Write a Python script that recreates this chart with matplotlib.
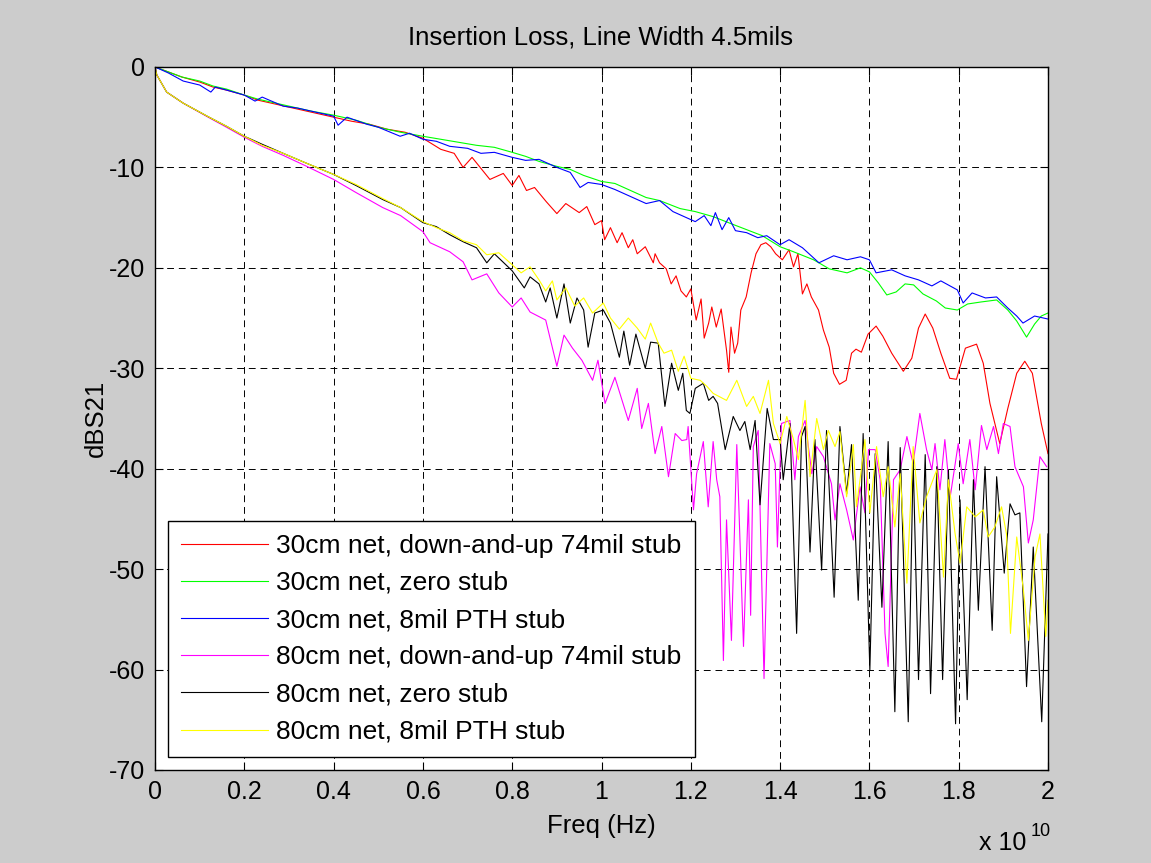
import matplotlib
matplotlib.use("Agg")
import matplotlib.pyplot as plt
import numpy as np

plt.rcParams['font.family'] = ['Liberation Sans', 'DejaVu Sans']
plt.rcParams['axes.unicode_minus'] = False

# (frequency in GHz, S21 in dB)
red_30cm_74mil = [(0, 0), (0.3, -0.5), (0.6, -1.0), (1.0, -1.5), (1.3, -2.0), (1.6, -2.3), (2.0, -2.8), (2.3, -3.3),
                  (2.6, -3.6), (3.0, -4.0), (3.5, -4.5), (4.0, -5.0), (4.4, -5.4), (4.8, -5.7), (5.2, -6.2), (5.6, -6.5),
                  (6.0, -7.1), (6.4, -8.2), (6.7, -8.6), (6.9, -10.0), (7.1, -9.0), (7.5, -11.2), (7.8, -10.6),
                  (8.0, -11.8), (8.15, -10.8), (8.32, -12.3), (8.5, -12.0), (8.76, -13.4), (9.0, -14.6), (9.2, -13.6),
                  (9.5, -14.5), (9.67, -13.9), (9.85, -15.7), (10.0, -15.3), (10.07, -17.2), (10.2, -16.0),
                  (10.35, -17.5), (10.46, -16.5), (10.6, -18.0), (10.7, -17.2), (10.8, -18.6), (10.98, -17.9),
                  (11.16, -19.5), (11.2, -18.6), (11.3, -19.5), (11.45, -20.1), (11.56, -21.6), (11.67, -20.8),
                  (11.78, -22.3), (11.9, -22.9), (12.0, -22.1), (12.12, -25.2), (12.23, -23.1), (12.3, -27.0),
                  (12.4, -25.5), (12.47, -23.9), (12.57, -25.9), (12.68, -24.1), (12.8, -28.2), (12.85, -30.4),
                  (12.9, -25.9), (12.98, -28.5), (13.05, -27.5), (13.12, -24.2), (13.24, -22.9), (13.35, -20.5),
                  (13.46, -18.6), (13.57, -17.7), (13.68, -17.5), (13.79, -17.9), (13.9, -18.6), (14.05, -19.2),
                  (14.2, -18.2), (14.3, -19.9), (14.4, -18.6), (14.5, -22.6), (14.6, -21.6), (14.7, -22.9),
                  (14.86, -24.2), (14.97, -26.2), (15.1, -27.9), (15.2, -30.5), (15.33, -31.6), (15.48, -31.2),
                  (15.6, -28.5), (15.7, -28.1), (15.82, -28.4), (15.97, -26.6), (16.15, -25.8), (16.3, -26.8),
                  (16.5, -28.5), (16.76, -30.3), (16.95, -29.0), (17.1, -26.0), (17.25, -24.6), (17.42, -26.0),
                  (17.6, -28.5), (17.8, -31.0), (17.95, -31.1), (18.15, -28.0), (18.4, -27.6), (18.55, -29.5),
                  (18.7, -33.5), (18.92, -37.5), (19.1, -34.0), (19.3, -30.5), (19.48, -29.3), (19.65, -30.5),
                  (19.85, -35.5), (20.0, -38.5)]

green_30cm_zero = [(0, 0), (0.3, -0.5), (0.6, -1.0), (1.0, -1.4), (1.3, -1.9), (1.6, -2.2), (2.0, -2.8), (2.3, -3.2),
                   (2.6, -3.5), (3.0, -3.9), (3.5, -4.4), (4.0, -4.8), (4.5, -5.3), (5.0, -6.0), (5.5, -6.5),
                   (6.0, -6.9), (6.4, -7.2), (6.8, -7.5), (7.2, -7.8), (7.6, -8.0), (8.0, -8.5), (8.3, -8.9),
                   (8.6, -9.4), (9.0, -9.9), (9.3, -10.2), (9.6, -10.8), (10.0, -11.4), (10.3, -11.6), (10.6, -12.2),
                   (11.0, -13.0), (11.3, -13.3), (11.76, -14.1), (12.1, -14.4), (12.5, -14.9), (12.9, -15.6),
                   (13.25, -16.2), (13.6, -16.8), (14.0, -17.9), (14.3, -18.4), (14.75, -19.2), (15.1, -20.1),
                   (15.5, -20.5), (15.8, -20.0), (16.0, -20.4), (16.2, -21.5), (16.39, -22.7), (16.6, -22.4),
                   (16.8, -21.6), (16.99, -21.7), (17.2, -22.6), (17.5, -23.3), (17.7, -24.0), (17.97, -24.2),
                   (18.2, -23.6), (18.5, -23.4), (18.85, -23.2), (19.1, -24.2), (19.3, -25.3), (19.52, -26.9),
                   (19.7, -25.6), (19.85, -24.8), (20.0, -24.5)]

blue_30cm_8mil = [(0, 0), (0.3, -0.6), (0.63, -1.4), (1.0, -1.8), (1.25, -2.5), (1.35, -2.0), (1.6, -2.3), (2.0, -2.8),
                  (2.24, -3.4), (2.4, -3.0), (2.87, -3.9), (3.2, -4.1), (3.6, -4.5), (4.0, -4.9), (4.1, -5.8),
                  (4.3, -5.0), (4.74, -5.7), (5.0, -6.0), (5.49, -6.9), (5.7, -6.6), (6.0, -7.2), (6.3, -7.4),
                  (6.6, -7.9), (7.0, -8.1), (7.3, -8.6), (7.6, -8.5), (8.0, -9.0), (8.3, -9.3), (8.6, -9.2),
                  (9.0, -10.0), (9.3, -10.5), (9.52, -12.0), (9.7, -11.5), (10.0, -11.7), (10.3, -12.2),
                  (10.6, -12.8), (11.0, -13.6), (11.3, -13.3), (11.6, -14.4), (11.9, -15.0), (12.1, -15.4),
                  (12.3, -14.8), (12.45, -15.8), (12.55, -14.5), (12.7, -16.2), (12.85, -15.0), (13.0, -16.3),
                  (13.25, -16.5), (13.5, -17.0), (13.7, -16.8), (14.0, -17.7), (14.2, -17.2), (14.5, -18.0),
                  (14.87, -19.5), (15.2, -18.8), (15.5, -19.2), (15.8, -18.9), (16.0, -19.2), (16.15, -20.5),
                  (16.5, -20.2), (16.8, -20.8), (17.1, -21.2), (17.4, -21.8), (17.6, -21.3), (17.97, -22.2),
                  (18.1, -23.5), (18.3, -22.5), (18.6, -23.0), (18.85, -22.9), (19.1, -24.0), (19.3, -24.8),
                  (19.44, -25.5), (19.7, -24.8), (20.0, -25.1)]

magenta_80cm_74mil = [(0, 0), (0.04, -0.8), (0.26, -2.5), (0.63, -3.6), (1.19, -5.0), (1.6, -6.0), (2.0, -7.0),
                      (2.4, -7.9), (2.87, -8.8), (3.4, -9.9), (4.0, -11.2), (4.5, -12.5), (5.1, -14.0), (5.5, -14.8),
                      (6.0, -16.4), (6.16, -17.5), (6.6, -18.4), (6.9, -19.4), (7.1, -21.2), (7.43, -20.6),
                      (7.7, -22.5), (8.0, -23.9), (8.2, -23.0), (8.4, -24.4), (8.75, -25.2), (9.0, -29.8),
                      (9.16, -26.7), (9.35, -28.0), (9.56, -29.2), (9.8, -31.2), (9.92, -29.2), (10.08, -33.5),
                      (10.3, -30.9), (10.6, -35.2), (10.8, -32.0), (10.9, -36.0), (11.05, -33.5), (11.2, -38.5),
                      (11.35, -35.8), (11.5, -40.8), (11.65, -36.5), (11.8, -37.2), (11.91, -37.1), (11.94, -35.8),
                      (12.06, -44.1), (12.13, -40.5), (12.28, -37.3), (12.39, -43.8), (12.5, -37.3), (12.58, -41.1),
                      (12.65, -42.8), (12.73, -59.1), (12.8, -45.1), (12.91, -57.1), (13.03, -37.6), (13.18, -57.7),
                      (13.29, -43.1), (13.34, -54.6), (13.4, -37.8), (13.51, -36.2), (13.64, -60.9), (13.77, -37.5),
                      (13.89, -39.5), (13.94, -47.8), (14.03, -35.5), (14.22, -35.2), (14.33, -41.1), (14.41, -36.8),
                      (14.56, -35.2), (14.71, -40.5), (14.82, -37.8), (14.97, -38.8), (15.15, -41.5), (15.23, -45.1),
                      (15.34, -41.5), (15.49, -44.1), (15.64, -47.1), (15.79, -41.8), (15.9, -44.4), (15.98, -38.1),
                      (16.13, -38.1), (16.24, -41.1), (16.35, -56.4), (16.42, -59.7), (16.54, -41.1), (16.69, -40.1),
                      (16.84, -36.8), (16.98, -39.5), (17.13, -34.5), (17.28, -38.1), (17.4, -40.1), (17.47, -37.5),
                      (17.58, -42.1), (17.69, -37.1), (17.81, -42.8), (17.99, -37.5), (18.1, -41.5), (18.25, -37.1),
                      (18.37, -42.1), (18.51, -35.7), (18.63, -38.1), (18.78, -35.8), (18.89, -38.5), (19.0, -35.5),
                      (19.15, -35.8), (19.26, -39.8), (19.45, -41.8), (19.56, -47.4), (19.67, -45.1), (19.82, -38.8),
                      (19.97, -39.8)]

black_80cm_zero = [(0, 0), (0.04, -0.8), (0.26, -2.5), (0.63, -3.6), (1.19, -4.95), (1.6, -5.9), (2.0, -6.9),
                   (2.4, -7.7), (2.87, -8.6), (3.4, -9.6), (4.0, -10.7), (4.5, -11.8), (5.1, -13.2), (5.5, -14.0),
                   (6.0, -15.5), (6.3, -15.9), (6.6, -16.7), (6.9, -17.4), (7.2, -18.0), (7.43, -19.5), (7.6, -18.6),
                   (8.0, -20.3), (8.27, -22.0), (8.4, -20.9), (8.6, -21.6), (8.75, -23.4), (8.85, -22.0),
                   (9.0, -25.0), (9.16, -21.6), (9.3, -25.5), (9.45, -23.0), (9.6, -24.2), (9.7, -27.9),
                   (9.85, -24.5), (10.04, -24.2), (10.2, -25.5), (10.4, -28.9), (10.5, -26.3), (10.63, -29.7),
                   (10.77, -26.6), (10.98, -30.0), (11.1, -27.4), (11.27, -27.5), (11.42, -33.8), (11.57, -29.5),
                   (11.72, -32.2), (11.82, -30.5), (11.9, -34.2), (11.98, -34.5), (12.1, -32.0), (12.28, -31.5),
                   (12.4, -33.2), (12.5, -32.8), (12.6, -33.5), (12.77, -38.1), (12.95, -34.8), (13.1, -36.2),
                   (13.21, -35.3), (13.33, -38.1), (13.44, -35.2), (13.55, -43.6), (13.71, -34.0), (13.85, -37.1),
                   (14.0, -37.1), (14.07, -41.1), (14.22, -35.5), (14.37, -56.4), (14.48, -36.8), (14.56, -35.8),
                   (14.67, -48.3), (14.78, -37.1), (14.93, -50.1), (15.04, -36.2), (15.21, -52.8), (15.34, -35.8),
                   (15.49, -42.5), (15.6, -37.6), (15.75, -53.1), (15.86, -36.5), (16.01, -60.1), (16.13, -38.5),
                   (16.28, -53.8), (16.42, -37.3), (16.57, -64.2), (16.69, -37.9), (16.87, -65.2), (16.98, -39.1),
                   (17.1, -61.0), (17.25, -38.6), (17.37, -62.4), (17.51, -39.8), (17.64, -61.0), (17.77, -40.1),
                   (17.93, -65.4), (18.03, -43.1), (18.19, -63.0), (18.33, -41.1), (18.44, -54.1), (18.59, -39.8),
                   (18.75, -56.1), (18.85, -40.8), (19.02, -50.4), (19.15, -43.5), (19.26, -44.6), (19.37, -44.4),
                   (19.52, -61.7), (19.67, -47.8), (19.86, -65.2), (20.0, -46.5)]

yellow_80cm_8mil = [(0, 0), (0.04, -0.8), (0.26, -2.5), (0.63, -3.6), (1.19, -4.95), (1.6, -5.9), (2.0, -6.9),
                    (2.4, -7.8), (2.87, -8.6), (3.4, -9.6), (4.0, -10.7), (4.5, -11.7), (5.1, -13.1), (5.5, -14.0),
                    (6.0, -15.4), (6.3, -16.0), (6.6, -16.5), (6.9, -17.3), (7.2, -17.7), (7.43, -18.7),
                    (7.7, -18.5), (8.0, -19.7), (8.2, -20.5), (8.4, -19.9), (8.6, -21.2), (8.75, -22.3),
                    (8.9, -21.3), (9.0, -23.2), (9.2, -22.0), (9.4, -23.8), (9.6, -23.0), (9.8, -24.5),
                    (10.04, -23.5), (10.2, -25.0), (10.4, -26.1), (10.6, -25.0), (10.8, -26.0), (10.98, -27.1),
                    (11.1, -25.5), (11.27, -27.5), (11.4, -28.5), (11.57, -28.2), (11.72, -30.3), (11.85, -28.8),
                    (12.0, -31.0), (12.21, -31.2), (12.36, -31.8), (12.5, -32.5), (12.8, -33.2), (13.03, -31.2),
                    (13.25, -33.8), (13.4, -32.8), (13.55, -34.5), (13.74, -31.2), (13.85, -35.5), (14.0, -37.5),
                    (14.15, -34.8), (14.3, -37.1), (14.41, -39.1), (14.56, -33.2), (14.67, -40.8), (14.82, -35.0),
                    (14.97, -38.1), (15.08, -36.2), (15.23, -37.8), (15.34, -36.3), (15.49, -42.8), (15.64, -37.6),
                    (15.71, -43.8), (15.79, -41.1), (15.9, -37.1), (16.01, -44.4), (16.16, -37.8), (16.31, -42.8),
                    (16.42, -39.8), (16.57, -45.8), (16.69, -40.5), (16.84, -51.4), (16.98, -37.8), (17.13, -45.4),
                    (17.28, -42.8), (17.51, -40.1), (17.66, -50.8), (17.77, -41.1), (17.92, -46.5), (18.03, -49.4),
                    (18.18, -43.8), (18.37, -44.8), (18.55, -44.1), (18.66, -46.8), (18.81, -45.8), (18.96, -43.8),
                    (19.07, -46.5), (19.16, -56.4), (19.3, -46.8), (19.45, -52.1), (19.56, -57.1), (19.71, -48.8),
                    (19.82, -46.5), (19.95, -56.7), (20.0, -53.1)]

series = [red_30cm_74mil, green_30cm_zero, blue_30cm_8mil, magenta_80cm_74mil, black_80cm_zero, yellow_80cm_8mil]
labels = ['30cm net, down-and-up 74mil stub', '30cm net, zero stub', '30cm net, 8mil PTH stub',
          '80cm net, down-and-up 74mil stub', '80cm net, zero stub', '80cm net, 8mil PTH stub']
colors = ['#ff0000', '#00ff00', '#0000ff', '#ff00ff', '#000000', '#ffff00']

xticks_hz = np.arange(0, 2.01e10, 0.2e10)
xtick_labels = ['0', '0.2', '0.4', '0.6', '0.8', '1', '1.2', '1.4', '1.6', '1.8', '2']
yticks = [0, -10, -20, -30, -40, -50, -60, -70]

fig = plt.figure(figsize=(11.51, 8.63), dpi=100, facecolor='#cccccc')
ax = fig.add_axes([0.1347, 0.1078, 0.7758, 0.8146])
ax.set_facecolor('white')

for data, lab, col in zip(series, labels, colors):
    arr = np.array(data)
    ax.plot(arr[:, 0] * 1e9, arr[:, 1], color=col, linewidth=0.8, label=lab)

ax.set_xlim(0, 2e10)
ax.set_ylim(-70, 0)
ax.set_xticks(xticks_hz)
ax.set_xticklabels(xtick_labels)
ax.set_yticks(yticks)
ax.tick_params(direction='in', top=True, right=True, length=6, width=0.8, labelsize=18, pad=7)
ax.grid(True, color='k', linestyle=(0, (7, 5)), linewidth=0.7)
for sp in ax.spines.values():
    sp.set_linewidth(1.0)

ax.set_xlabel('Freq (Hz)', fontsize=18.5)
ax.xaxis.set_label_coords(0.5, -0.063)
ax.set_ylabel('dBS21', fontsize=18.5)
ax.yaxis.set_label_coords(-0.053, 0.5)

fig.text(601 / 1151, 1 - 38 / 863, 'Insertion Loss, Line Width 4.5mils', ha='center', va='center', fontsize=18.5)
fig.text(979 / 1151, 1 - 850 / 863, 'x 10', ha='left', va='baseline', fontsize=18)
fig.text(1031 / 1151, 1 - 836 / 863, '10', ha='left', va='baseline', fontsize=13)

leg = ax.legend(loc='lower left', bbox_to_anchor=(0.0146, 0.0185), borderaxespad=0, fontsize=19,
                handlelength=3.3, handletextpad=0.3, borderpad=0.5, labelspacing=0.5,
                fancybox=False, framealpha=1, edgecolor='k')
leg.get_frame().set_linewidth(1.0)

fig.savefig('out.png', dpi=100, facecolor=fig.get_facecolor())
